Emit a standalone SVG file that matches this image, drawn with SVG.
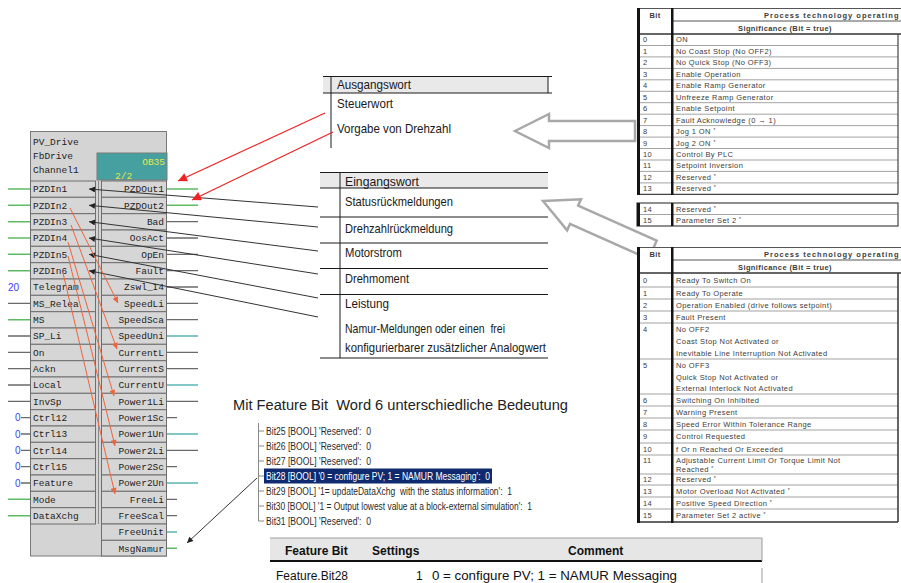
<svg xmlns="http://www.w3.org/2000/svg" width="901" height="583" viewBox="0 0 901 583">
<style>
  .cell{fill:#d6d6d6;stroke:#6e6e6e;stroke-width:1}
  .mono{font-family:"Liberation Mono","DejaVu Sans Mono",monospace;font-size:9.5px;fill:#1e1e1e}
  .end{text-anchor:end}
  .pg{stroke:#5dbb63;stroke-width:1.5}
  .pk{stroke:#6a6a6a;stroke-width:1.3}
  .pt{stroke:#5ab4b4;stroke-width:1.5}
  .cst{font-family:"Liberation Sans",Arial,sans-serif;font-size:10px;fill:#3c3cff}
  .nar{font-family:"Liberation Sans Narrow","Liberation Sans",Arial,sans-serif;font-size:13px;fill:#1a1a1a}
  .tl{stroke:#1a1a1a;stroke-width:1;fill:none}
  .tt{font-family:"Liberation Sans",Arial,sans-serif;font-size:7.5px;fill:#3c3c3c;letter-spacing:0.4px}
  .th{font-family:"Liberation Sans",Arial,sans-serif;font-size:7.5px;font-weight:bold;fill:#3c3c3c;letter-spacing:0.4px}
  .rl{stroke:#8c8c8c;stroke-width:0.8}
  .bar{fill:#141414}
  .sup{font-size:5px}
  .tree{font-family:"Liberation Sans Narrow","Liberation Sans",Arial,sans-serif;font-size:10px;fill:#2a2a2a;white-space:pre}
  .hollow{fill:#fff;stroke:#a8a8a8;stroke-width:2.5;stroke-linejoin:miter}
  .conn{stroke:#333;stroke-width:1;fill:none}
  .red{stroke:#ee2222;stroke-width:1.2;fill:none}
  .org{stroke:#f0643c;stroke-width:1;fill:none}
  .ft{font-family:"Liberation Sans",Arial,sans-serif;font-size:12px;fill:#111}
</style>
<defs>
  <marker id="ah-black" viewBox="0 0 10 10" refX="10" refY="5" markerWidth="7" markerHeight="6" orient="auto" markerUnits="userSpaceOnUse">
    <path d="M0,0 L10,5 L0,10 z" fill="#222"/>
  </marker>
  <marker id="ah-red" viewBox="0 0 10 10" refX="10" refY="5" markerWidth="11" markerHeight="9" orient="auto" markerUnits="userSpaceOnUse">
    <path d="M0,0 L10,5 L0,10 z" fill="#ee2222"/>
  </marker>
  <marker id="ah-org" viewBox="0 0 10 10" refX="10" refY="5" markerWidth="7" markerHeight="6" orient="auto" markerUnits="userSpaceOnUse">
    <path d="M0,0 L10,5 L0,10 z" fill="#f0643c"/>
  </marker>
  <path id="hollow-arrow" d="M0,0 L34,-17 L34,-10 L120,-10 L120,10 L34,10 L34,17 Z"/>
</defs>

<rect width="901" height="583" fill="#fff"/>

<!-- hollow pointer arrows (drawn beneath the tables) -->
<g id="pointer-arrows">
  <use href="#hollow-arrow" class="hollow" transform="translate(515,131)"/>
  <use href="#hollow-arrow" class="hollow" transform="translate(543,201) rotate(24)"/>
</g>

<!-- function block PV_Drive -->
<g id="pv-drive-block">
  <rect x="30.5" y="131.5" width="136" height="424.5" fill="#d4d4d4" stroke="#7a7a7a"/>
  <text class="mono" x="33" y="144.5">PV_Drive</text>
  <text class="mono" x="33" y="158.5">FbDrive</text>
  <text class="mono" x="33" y="172.5">Channel1</text>
  <rect x="97" y="153" width="70" height="27" fill="#46a0a0" stroke="#7a7a7a"/>
  <text class="mono end" x="165" y="164.5" style="fill:#e6e64a">OB35</text>
  <text class="mono" x="115" y="178.5" style="fill:#e6e64a">2/2</text>
  <line x1="98.5" y1="181" x2="98.5" y2="524" stroke="#8a8a8a"/>

  <!-- input cells -->
  <rect class="cell" x="30.5" y="181" width="65" height="16.33"/>
  <rect class="cell" x="30.5" y="197.3" width="65" height="16.33"/>
  <rect class="cell" x="30.5" y="213.7" width="65" height="16.33"/>
  <rect class="cell" x="30.5" y="230" width="65" height="16.33"/>
  <rect class="cell" x="30.5" y="246.3" width="65" height="16.33"/>
  <rect class="cell" x="30.5" y="262.7" width="65" height="16.33"/>
  <rect class="cell" x="30.5" y="279" width="65" height="16.33"/>
  <rect class="cell" x="30.5" y="295.3" width="65" height="16.33"/>
  <rect class="cell" x="30.5" y="311.7" width="65" height="16.33"/>
  <rect class="cell" x="30.5" y="328" width="65" height="16.33"/>
  <rect class="cell" x="30.5" y="344.3" width="65" height="16.33"/>
  <rect class="cell" x="30.5" y="360.7" width="65" height="16.33"/>
  <rect class="cell" x="30.5" y="377" width="65" height="16.33"/>
  <rect class="cell" x="30.5" y="393.3" width="65" height="16.33"/>
  <rect class="cell" x="30.5" y="409.7" width="65" height="16.33"/>
  <rect class="cell" x="30.5" y="426" width="65" height="16.33"/>
  <rect class="cell" x="30.5" y="442.3" width="65" height="16.33"/>
  <rect class="cell" x="30.5" y="458.7" width="65" height="16.33"/>
  <rect class="cell" x="30.5" y="475" width="65" height="16.33"/>
  <rect class="cell" x="30.5" y="491.3" width="65" height="16.33"/>
  <rect class="cell" x="30.5" y="507.7" width="65" height="16.33"/>

  <text class="mono" x="33" y="192.3">PZDIn1</text>
  <text class="mono" x="33" y="208.6">PZDIn2</text>
  <text class="mono" x="33" y="225">PZDIn3</text>
  <text class="mono" x="33" y="241.3">PZDIn4</text>
  <text class="mono" x="33" y="257.6">PZDIn5</text>
  <text class="mono" x="33" y="274">PZDIn6</text>
  <text class="mono" x="33" y="290.3">Telegram</text>
  <text class="mono" x="33" y="306.6">MS_Relea</text>
  <text class="mono" x="33" y="323">MS</text>
  <text class="mono" x="33" y="339.3">SP_Li</text>
  <text class="mono" x="33" y="355.6">On</text>
  <text class="mono" x="33" y="372">Ackn</text>
  <text class="mono" x="33" y="388.3">Local</text>
  <text class="mono" x="33" y="404.6">InvSp</text>
  <text class="mono" x="33" y="421">Ctrl12</text>
  <text class="mono" x="33" y="437.3">Ctrl13</text>
  <text class="mono" x="33" y="453.6">Ctrl14</text>
  <text class="mono" x="33" y="470">Ctrl15</text>
  <text class="mono" x="33" y="486.3">Feature</text>
  <text class="mono" x="33" y="502.6">Mode</text>
  <text class="mono" x="33" y="519">DataXchg</text>

  <!-- output cells -->
  <rect class="cell" x="101.5" y="181" width="65" height="16.33"/>
  <rect class="cell" x="101.5" y="197.3" width="65" height="16.33"/>
  <rect class="cell" x="101.5" y="213.7" width="65" height="16.33"/>
  <rect class="cell" x="101.5" y="230" width="65" height="16.33"/>
  <rect class="cell" x="101.5" y="246.3" width="65" height="16.33"/>
  <rect class="cell" x="101.5" y="262.7" width="65" height="16.33"/>
  <rect class="cell" x="101.5" y="279" width="65" height="16.33"/>
  <rect class="cell" x="101.5" y="295.3" width="65" height="16.33"/>
  <rect class="cell" x="101.5" y="311.7" width="65" height="16.33"/>
  <rect class="cell" x="101.5" y="328" width="65" height="16.33"/>
  <rect class="cell" x="101.5" y="344.3" width="65" height="16.33"/>
  <rect class="cell" x="101.5" y="360.7" width="65" height="16.33"/>
  <rect class="cell" x="101.5" y="377" width="65" height="16.33"/>
  <rect class="cell" x="101.5" y="393.3" width="65" height="16.33"/>
  <rect class="cell" x="101.5" y="409.7" width="65" height="16.33"/>
  <rect class="cell" x="101.5" y="426" width="65" height="16.33"/>
  <rect class="cell" x="101.5" y="442.3" width="65" height="16.33"/>
  <rect class="cell" x="101.5" y="458.7" width="65" height="16.33"/>
  <rect class="cell" x="101.5" y="475" width="65" height="16.33"/>
  <rect class="cell" x="101.5" y="491.3" width="65" height="16.33"/>
  <rect class="cell" x="101.5" y="507.7" width="65" height="16.33"/>
  <rect class="cell" x="101.5" y="524" width="65" height="16.33"/>
  <rect class="cell" x="101.5" y="540.3" width="65" height="15.7"/>

  <text class="mono end" x="164" y="192.3">PZDOut1</text>
  <text class="mono end" x="164" y="208.6">PZDOut2</text>
  <text class="mono end" x="164" y="225">Bad</text>
  <text class="mono end" x="164" y="241.3">OosAct</text>
  <text class="mono end" x="164" y="257.6">OpEn</text>
  <text class="mono end" x="164" y="274">Fault</text>
  <text class="mono end" x="164" y="290.3">Zswl_I4</text>
  <text class="mono end" x="164" y="306.6">SpeedLi</text>
  <text class="mono end" x="164" y="323">SpeedSca</text>
  <text class="mono end" x="164" y="339.3">SpeedUni</text>
  <text class="mono end" x="164" y="355.6">CurrentL</text>
  <text class="mono end" x="164" y="372">CurrentS</text>
  <text class="mono end" x="164" y="388.3">CurrentU</text>
  <text class="mono end" x="164" y="404.6">Power1Li</text>
  <text class="mono end" x="164" y="421">Power1Sc</text>
  <text class="mono end" x="164" y="437.3">Power1Un</text>
  <text class="mono end" x="164" y="453.6">Power2Li</text>
  <text class="mono end" x="164" y="470">Power2Sc</text>
  <text class="mono end" x="164" y="486.3">Power2Un</text>
  <text class="mono end" x="164" y="502.6">FreeLi</text>
  <text class="mono end" x="164" y="519">FreeScal</text>
  <text class="mono end" x="164" y="535.3">FreeUnit</text>
  <text class="mono end" x="164" y="551.6">MsgNamur</text>

  <!-- input pins -->
  <path class="pg" d="M8 189H30M8 205.3H30M8 221.7H30M8 238H30M8 254.3H30M8 270.7H30M8 319.7H30M8 499.3H30M8 515.7H30"/>
  <path class="pk" d="M8 303.3H30M8 336H30M8 352.3H30M8 368.7H30M8 385H30M8 401.3H30M21 417.7H30M21 434H30M21 450.3H30M21 466.7H30M21 483H30"/>
  <text class="cst" x="8" y="290.5">20</text>
  <text class="cst" x="15" y="421.2">0</text>
  <text class="cst" x="15" y="437.5">0</text>
  <text class="cst" x="15" y="453.8">0</text>
  <text class="cst" x="15" y="470.2">0</text>
  <text class="cst" x="15" y="486.5">0</text>

  <!-- output pins -->
  <path class="pg" d="M167 189H198M167 205.3H198M167 548.3H177"/>
  <path class="pk" d="M167 221.7H198M167 238H198M167 254.3H198M167 270.7H198M167 287H198M167 303.3H198M167 319.7H198M167 352.3H198M167 368.7H198M167 401.3H198M167 417.7H177M167 450.3H198M167 466.7H177M167 499.3H177M167 515.7H177"/>
  <path class="pt" d="M167 336H198M167 385H198M167 434H198M167 483H198M167 532H177"/>
</g>

<!-- output word table -->
<g id="ausgangswort">
  <rect x="323" y="76.5" width="225" height="16.5" fill="#e9e9e9"/>
  <line class="tl" x1="323" y1="76.5" x2="552" y2="76.5"/>
  <line class="tl" x1="323" y1="93" x2="552" y2="93" stroke-width="2"/>
  <line class="tl" x1="331" y1="76" x2="331" y2="148"/>
  <line class="tl" x1="548" y1="76" x2="548" y2="93"/>
  <text class="nar" x="337" y="89" textLength="74" lengthAdjust="spacingAndGlyphs">Ausgangswort</text>
  <text class="nar" x="337" y="108" textLength="56" lengthAdjust="spacingAndGlyphs">Steuerwort</text>
  <text class="nar" x="337" y="133" textLength="114" lengthAdjust="spacingAndGlyphs">Vorgabe von Drehzahl</text>
</g>

<!-- input word table -->
<g id="eingangswort">
  <rect x="320" y="172.5" width="228" height="15.5" fill="#e9e9e9"/>
  <line class="tl" x1="320" y1="172.5" x2="548" y2="172.5"/>
  <line class="tl" x1="320" y1="188" x2="548" y2="188" stroke-width="2"/>
  <line class="tl" x1="340" y1="172" x2="340" y2="358"/>
  <path class="tl" d="M320 217H548M320 243H548M320 268.5H548M320 294.5H548M320 358H548"/>
  <text class="nar" x="345" y="186" textLength="74" lengthAdjust="spacingAndGlyphs">Eingangswort</text>
  <text class="nar" x="345" y="206" textLength="108" lengthAdjust="spacingAndGlyphs">Statusrückmeldungen</text>
  <text class="nar" x="345" y="233" textLength="108" lengthAdjust="spacingAndGlyphs">Drehzahlrückmeldung</text>
  <text class="nar" x="345" y="257" textLength="57" lengthAdjust="spacingAndGlyphs">Motorstrom</text>
  <text class="nar" x="345" y="283" textLength="64" lengthAdjust="spacingAndGlyphs">Drehmoment</text>
  <text class="nar" x="345" y="308" textLength="44" lengthAdjust="spacingAndGlyphs">Leistung</text>
  <text class="nar" x="345" y="333" textLength="160" lengthAdjust="spacingAndGlyphs" style="white-space:pre">Namur-Meldungen oder einen  frei</text>
  <text class="nar" x="345" y="352" textLength="201" lengthAdjust="spacingAndGlyphs">konfigurierbarer zusätzlicher Analogwert</text>
</g>

<!-- control word bit table -->
<g id="control-word-table">
  <rect x="637" y="8" width="264" height="187" fill="#fff"/>
  <path d="M637 8.5H901M673 21H901" stroke="#555" stroke-width="1"/>
  <path d="M637 34H901" stroke="#333" stroke-width="1.5"/>
  <path class="rl" d="M640 45.5H898M640 56.9H898M640 68.4H898M640 79.8H898M640 91.3H898M640 102.7H898M640 114.2H898M640 125.6H898M640 137.1H898M640 148.5H898M640 160H898M640 171.4H898M640 182.9H898"/>
  <path d="M637 194.3H898M898 34V194.3" stroke="#444" stroke-width="1.2"/>
  <rect class="bar" x="637" y="8" width="3" height="187"/>
  <rect class="bar" x="671" y="8" width="2.5" height="187"/>
  <text class="th" x="655" y="17.5" text-anchor="middle">Bit</text>
  <text class="th" x="764" y="17.5" style="letter-spacing:1px">Process technology operating</text>
  <text class="th" x="785" y="30.5" text-anchor="middle">Significance (Bit = true)</text>
  <text class="tt" x="643" y="42.4">0</text><text class="tt" x="676" y="42.4">ON</text>
  <text class="tt" x="643" y="53.9">1</text><text class="tt" x="676" y="53.9">No Coast Stop (No OFF2)</text>
  <text class="tt" x="643" y="65.3">2</text><text class="tt" x="676" y="65.3">No Quick Stop (No OFF3)</text>
  <text class="tt" x="643" y="76.8">3</text><text class="tt" x="676" y="76.8">Enable Operation</text>
  <text class="tt" x="643" y="88.2">4</text><text class="tt" x="676" y="88.2">Enable Ramp Generator</text>
  <text class="tt" x="643" y="99.7">5</text><text class="tt" x="676" y="99.7">Unfreeze Ramp Generator</text>
  <text class="tt" x="643" y="111.1">6</text><text class="tt" x="676" y="111.1">Enable Setpoint</text>
  <text class="tt" x="643" y="122.6">7</text><text class="tt" x="676" y="122.6">Fault Acknowledge (0 → 1)</text>
  <text class="tt" x="643" y="134">8</text><text class="tt" x="676" y="134">Jog 1 ON <tspan class="sup" dy="-2">*</tspan></text>
  <text class="tt" x="643" y="145.5">9</text><text class="tt" x="676" y="145.5">Jog 2 ON <tspan class="sup" dy="-2">*</tspan></text>
  <text class="tt" x="643" y="156.9">10</text><text class="tt" x="676" y="156.9">Control By PLC</text>
  <text class="tt" x="643" y="168.4">11</text><text class="tt" x="676" y="168.4">Setpoint Inversion</text>
  <text class="tt" x="643" y="179.8">12</text><text class="tt" x="676" y="179.8">Reserved <tspan class="sup" dy="-2">*</tspan></text>
  <text class="tt" x="643" y="191.3">13</text><text class="tt" x="676" y="191.3">Reserved <tspan class="sup" dy="-2">*</tspan></text>

  <rect x="637" y="203" width="261" height="23" fill="#fff" stroke="#444" stroke-width="1.2"/>
  <line class="rl" x1="640" y1="214.5" x2="898" y2="214.5"/>
  <rect class="bar" x="637" y="203" width="3" height="23"/>
  <rect class="bar" x="671" y="203" width="2.5" height="23"/>
  <text class="tt" x="643" y="211.5">14</text><text class="tt" x="676" y="211.5">Reserved <tspan class="sup" dy="-2">*</tspan></text>
  <text class="tt" x="643" y="223">15</text><text class="tt" x="676" y="223">Parameter Set 2 <tspan class="sup" dy="-2">*</tspan></text>
</g>

<!-- status word bit table -->
<g id="status-word-table">
  <rect x="637" y="247" width="264" height="276" fill="#fff"/>
  <path d="M637 247.5H901M673 260H901" stroke="#555" stroke-width="1"/>
  <path d="M637 273H901" stroke="#333" stroke-width="1.5"/>
  <path class="rl" d="M640 287H898M640 299H898M640 311H898M640 323H898M640 359H898M640 394H898M640 406H898M640 418H898M640 430H898M640 443H898M640 455H898M640 474H898M640 485H898M640 497H898M640 509H898"/>
  <path d="M637 522H898M898 273V522" stroke="#333" stroke-width="1.5"/>
  <rect class="bar" x="637" y="247" width="3" height="276"/>
  <rect class="bar" x="671" y="247" width="2.5" height="276"/>
  <text class="th" x="655" y="256.5" text-anchor="middle">Bit</text>
  <text class="th" x="764" y="256.5" style="letter-spacing:1px">Process technology operating</text>
  <text class="th" x="785" y="269.5" text-anchor="middle">Significance (Bit = true)</text>
  <text class="tt" x="643" y="282.7">0</text><text class="tt" x="676" y="282.7">Ready To Switch On</text>
  <text class="tt" x="643" y="295.7">1</text><text class="tt" x="676" y="295.7">Ready To Operate</text>
  <text class="tt" x="643" y="307.7">2</text><text class="tt" x="676" y="307.7">Operation Enabled (drive follows setpoint)</text>
  <text class="tt" x="643" y="319.7">3</text><text class="tt" x="676" y="319.7">Fault Present</text>
  <text class="tt" x="643" y="331.7">4</text><text class="tt" x="676" y="331.7">No OFF2</text>
  <text class="tt" x="676" y="343.7">Coast Stop Not Activated or</text>
  <text class="tt" x="676" y="355.7">Inevitable Line Interruption Not Activated</text>
  <text class="tt" x="643" y="367.7">5</text><text class="tt" x="676" y="367.7">No OFF3</text>
  <text class="tt" x="676" y="379.7">Quick Stop Not Activated or</text>
  <text class="tt" x="676" y="390.7">External Interlock Not Activated</text>
  <text class="tt" x="643" y="402.7">6</text><text class="tt" x="676" y="402.7">Switching On Inhibited</text>
  <text class="tt" x="643" y="414.7">7</text><text class="tt" x="676" y="414.7">Warning Present</text>
  <text class="tt" x="643" y="426.7">8</text><text class="tt" x="676" y="426.7">Speed Error Within Tolerance Range</text>
  <text class="tt" x="643" y="439.2">9</text><text class="tt" x="676" y="439.2">Control Requested</text>
  <text class="tt" x="643" y="451.7">10</text><text class="tt" x="676" y="451.7">f Or n Reached Or Exceeded</text>
  <text class="tt" x="643" y="462.5">11</text><text class="tt" x="676" y="462.5">Adjustable Current Limit Or Torque Limit Not</text>
  <text class="tt" x="676" y="471.5">Reached <tspan class="sup" dy="-2">*</tspan></text>
  <text class="tt" x="643" y="482">12</text><text class="tt" x="676" y="482">Reserved <tspan class="sup" dy="-2">*</tspan></text>
  <text class="tt" x="643" y="493.7">13</text><text class="tt" x="676" y="493.7">Motor Overload Not Activated <tspan class="sup" dy="-2">*</tspan></text>
  <text class="tt" x="643" y="505.7">14</text><text class="tt" x="676" y="505.7">Positive Speed Direction <tspan class="sup" dy="-2">*</tspan></text>
  <text class="tt" x="643" y="518">15</text><text class="tt" x="676" y="518">Parameter Set 2 active <tspan class="sup" dy="-2">*</tspan></text>
</g>

<!-- feature bit heading and tree -->
<g id="feature-heading">
  <text x="233" y="410" textLength="335" lengthAdjust="spacingAndGlyphs" style="font-family:'Liberation Sans',Arial,sans-serif;font-size:15.5px;fill:#222;white-space:pre">Mit Feature Bit  Word 6 unterschiedliche Bedeutung</text>
</g>
<g id="feature-tree">
  <path d="M258.5 423V521M258.5 431H264M258.5 446H264M258.5 461H264M258.5 476H264M258.5 491H264M258.5 506H264M258.5 521H264" stroke="#8a8a8a" stroke-width="1" fill="none"/>
  <rect x="264" y="468.5" width="228" height="15" fill="#0f2a6e"/>
  <text class="tree" x="266" y="434.5" textLength="105" lengthAdjust="spacingAndGlyphs">Bit25 [BOOL] 'Reserved':  0</text>
  <text class="tree" x="266" y="449.5" textLength="105" lengthAdjust="spacingAndGlyphs">Bit26 [BOOL] 'Reserved':  0</text>
  <text class="tree" x="266" y="464.5" textLength="105" lengthAdjust="spacingAndGlyphs">Bit27 [BOOL] 'Reserved':  0</text>
  <text class="tree" x="266" y="479.5" textLength="224" lengthAdjust="spacingAndGlyphs" style="fill:#fff">Bit28 [BOOL] '0 = configure PV; 1 = NAMUR Messaging':  0</text>
  <text class="tree" x="266" y="494.5" textLength="246" lengthAdjust="spacingAndGlyphs">Bit29 [BOOL] '1= updateDataXchg  with the status information':  1</text>
  <text class="tree" x="266" y="509.5" textLength="266" lengthAdjust="spacingAndGlyphs">Bit30 [BOOL] '1 = Output lowest value at a block-external simulation':  1</text>
  <text class="tree" x="266" y="524.5" textLength="105" lengthAdjust="spacingAndGlyphs">Bit31 [BOOL] 'Reserved':  0</text>
</g>

<!-- feature settings table -->
<g id="feature-table">
  <rect x="270" y="538" width="492" height="23" fill="#e6e6e6"/>
  <line x1="270" y1="538" x2="762" y2="538" stroke="#a0a0a0"/>
  <line x1="270" y1="561" x2="762" y2="561" stroke="#111" stroke-width="2"/>
  <path d="M762 538V561M762 568V583" stroke="#9a9a9a"/>
  <text class="ft" x="285" y="554.5" font-weight="bold">Feature Bit</text>
  <text class="ft" x="372" y="554.5" font-weight="bold">Settings</text>
  <text class="ft" x="568" y="554.5" font-weight="bold">Comment</text>
  <text class="ft" x="276" y="579.5" textLength="72" lengthAdjust="spacingAndGlyphs">Feature.Bit28</text>
  <text class="ft" x="416" y="579.5">1</text>
  <text class="ft" x="432" y="579.5" textLength="245" lengthAdjust="spacingAndGlyphs" style="font-size:13px">0 = configure PV; 1 = NAMUR Messaging</text>
</g>

<!-- connectors -->
<g id="connectors">
  <path class="conn" marker-end="url(#ah-black)" d="M318 207L89 189"/>
  <path class="conn" marker-end="url(#ah-black)" d="M318 227L89 205.3"/>
  <path class="conn" marker-end="url(#ah-black)" d="M318 251L89 221.7"/>
  <path class="conn" marker-end="url(#ah-black)" d="M318 274L89 238"/>
  <path class="conn" marker-end="url(#ah-black)" d="M318 298L89 254.3"/>
  <path class="conn" marker-end="url(#ah-black)" d="M318 317L89 270.7"/>
  <path class="red" marker-end="url(#ah-red)" d="M325 113L178 181"/>
  <path class="red" marker-end="url(#ah-red)" d="M333 132L192 200"/>
  <path class="org" marker-end="url(#ah-org)" d="M70 208L118 303"/>
  <path class="org" marker-end="url(#ah-org)" d="M71 225L117 349"/>
  <path class="org" marker-end="url(#ah-org)" d="M68 242L114 396"/>
  <path class="org" marker-end="url(#ah-org)" d="M68 256L115 446"/>
  <path class="org" marker-end="url(#ah-org)" d="M63 273L115 494"/>
  <path class="conn" marker-end="url(#ah-black)" d="M257 478L187 543"/>
</g>
</svg>
